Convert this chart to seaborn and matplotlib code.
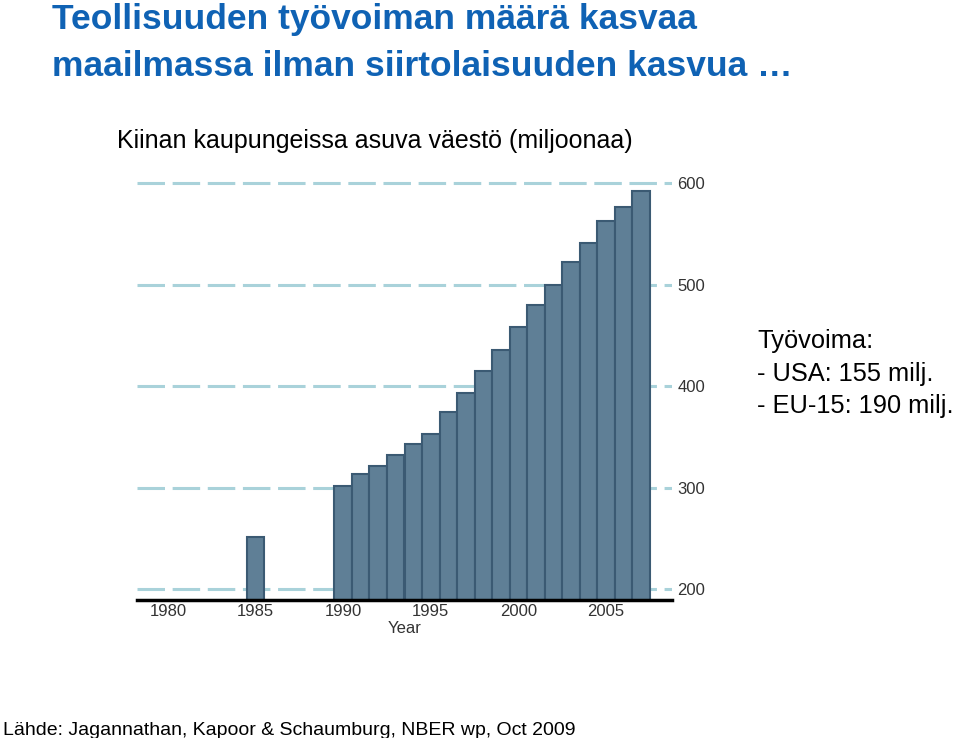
import matplotlib
matplotlib.use("Agg")
import matplotlib.pyplot as plt
import seaborn as sns
import pandas as pd

years = [1985, 1990, 1991, 1992, 1993, 1994, 1995, 1996, 1997, 1998, 1999,
         2000, 2001, 2002, 2003, 2004, 2005, 2006, 2007]
population = [251, 302, 313, 321, 332, 343, 353, 374, 393, 415, 436,
              458, 480, 500, 522, 541, 563, 576, 592]
x_ticks = [1980, 1985, 1990, 1995, 2000, 2005]
y_ticks = [200, 300, 400, 500, 600]

title_lines = ["Teollisuuden työvoiman määrä kasvaa",
               "maailmassa ilman siirtolaisuuden kasvua …"]
subtitle = "Kiinan kaupungeissa asuva väestö (miljoonaa)"
side_lines = ["Työvoima:", "- USA: 155 milj.", "- EU-15: 190 milj."]
source = "Lähde: Jagannathan, Kapoor & Schaumburg, NBER wp, Oct 2009"

sns.set_style("white")
plt.rcParams['font.family'] = ['Liberation Sans', 'DejaVu Sans']

df = pd.DataFrame({"Year": years, "Population": population})

fig = plt.figure(figsize=(9.6, 7.38), dpi=100)
ax = fig.add_axes([137/960, 1-600/738, (672-137)/960, (600-178)/738])

sns.barplot(data=df, x="Year", y="Population", native_scale=True, width=1.0,
            color="#5f7f96", saturation=1, edgecolor="#3b5a73", linewidth=1.5,
            ax=ax, zorder=3)

ax.set_xlim(1978.23, 2008.77)
ax.set_ylim(189.2, 605)
for v in y_ticks:
    ax.axhline(v, color="#a9d2da", lw=2.2, dashes=(9, 2.5), zorder=1)

ax.set_xticks(x_ticks)
ax.set_xticklabels([str(t) for t in x_ticks], fontsize=12, color="#333333")
ax.set_yticks(y_ticks)
ax.yaxis.tick_right()
ax.set_yticklabels([str(t) for t in y_ticks], fontsize=12, color="#333333")
ax.tick_params(axis="y", length=0, pad=4)
ax.tick_params(axis="x", direction="in", length=6, width=2, color="black", pad=3)
ax.set_xlabel("Year", fontsize=12, color="#333333", labelpad=1)
ax.set_ylabel("")
for s in ["top", "left", "right"]:
    ax.spines[s].set_visible(False)
ax.spines["bottom"].set_color("black")
ax.spines["bottom"].set_linewidth(2.5)
ax.spines["bottom"].set_zorder(5)

fig.text(52/960, 1-29/738, title_lines[0], fontsize=25.5, fontweight="bold",
         color="#0f62b4", va="baseline", ha="left")
fig.text(52/960, 1-76/738, title_lines[1], fontsize=25.5, fontweight="bold",
         color="#0f62b4", va="baseline", ha="left")
fig.text(117/960, 1-148/738, subtitle, fontsize=18, color="black",
         va="baseline", ha="left")
for i, line in enumerate(side_lines):
    fig.text(757/960, 1-(348+32.5*i)/738, line, fontsize=18.3, color="black",
             va="baseline", ha="left")
fig.text(3/960, 1-735/738, source, fontsize=14, color="black",
         va="baseline", ha="left")

fig.savefig("out.png", dpi=100)
